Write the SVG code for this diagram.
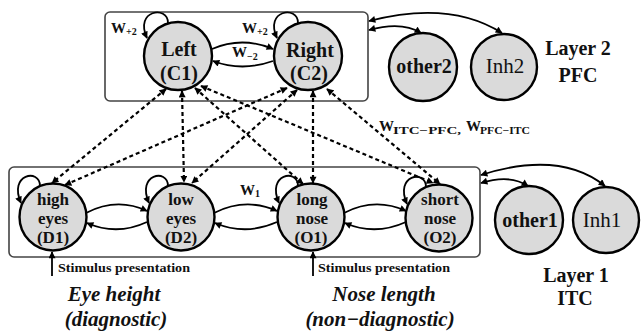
<svg xmlns="http://www.w3.org/2000/svg" width="642" height="333" viewBox="0 0 642 333">
  <defs>
    <marker id="ah" viewBox="0 0 10 10" refX="9" refY="5" markerWidth="8" markerHeight="7" markerUnits="userSpaceOnUse" orient="auto-start-reverse">
      <path d="M0,0 L10,5 L0,10 z" fill="#000"/>
    </marker>
    <style>
      text { font-family: 'Liberation Serif', 'Times New Roman', serif; fill: #111; }
      .box { fill: none; stroke: #444; stroke-width: 1.6; }
      .node { fill: #dadada; stroke: #000; stroke-width: 2.4; }
      .lbl { font-weight: bold; text-anchor: middle; }
      .lbl3 { font-weight: bold; text-anchor: middle; font-size: 17px; }
      .lblr { text-anchor: middle; }
      .w { font-weight: bold; }
      .solid { fill: none; stroke: #000; stroke-width: 1.8; marker-end: url(#ah); }
      .both { fill: none; stroke: #000; stroke-width: 1.8; marker-start: url(#ah); marker-end: url(#ah); }
      .dash { fill: none; stroke: #000; stroke-width: 2.2; stroke-dasharray: 4 3; marker-start: url(#ah); marker-end: url(#ah); }
      .cap { font-weight: bold; font-style: italic; text-anchor: middle; font-size: 21px; }
    </style>
  </defs>

  <!-- layer frames -->
  <rect class="box" x="105" y="12" width="263" height="89" rx="5"/>
  <rect class="box" x="9" y="167" width="471" height="90" rx="5"/>

  <!-- connectors -->
  <g id="connectors">
    <!-- ITC <-> PFC dashed projections -->
    <path class="dash" d="M166,89 L52,183"/>
    <path class="dash" d="M287,88 L65,185"/>
    <path class="dash" d="M182,91 L184,182"/>
    <path class="dash" d="M297,90 L192,183"/>
    <path class="dash" d="M195,88 L303,184"/>
    <path class="dash" d="M313,91 L313,183"/>
    <path class="dash" d="M201,86 L433,183"/>
    <path class="dash" d="M327,89 L440,184"/>

    <!-- self excitation loops -->
    <path class="solid" d="M168,23 C168,5 134,10 147,38"/>
    <path class="solid" d="M298,23 C298,5 264,10 277,38"/>
    <path class="solid" d="M40,186 C40,168 8,174 21,203"/>
    <path class="solid" d="M168,186 C168,168 136,174 149,203"/>
    <path class="solid" d="M298,186 C298,168 266,174 279,203"/>
    <path class="solid" d="M426,187 C426,169 394,175 407,204"/>

    <!-- lateral links in layer 2 -->
    <path class="solid" d="M212,49 Q242,36 273,49"/>
    <path class="solid" d="M273,61 Q242,72 213,61"/>

    <!-- lateral links in layer 1 -->
    <path class="solid" d="M86,213 Q117,197 147,211"/>
    <path class="solid" d="M147,222 Q117,236 87,223"/>
    <path class="solid" d="M214,213 Q246,197 277,211"/>
    <path class="solid" d="M277,222 Q246,236 215,223"/>
    <path class="solid" d="M344,213 Q375,197 406,211"/>
    <path class="solid" d="M406,222 Q375,236 345,223"/>

    <!-- links to other / inhibitory pools -->
    <path class="both" d="M369,21 Q450,0 502,33"/>
    <path class="both" d="M369,30 Q402,21 421,33"/>
    <path class="both" d="M481,175 Q560,150 605,186"/>
    <path class="both" d="M481,183 Q510,174 528,186"/>

    <!-- stimulus inputs -->
    <path class="solid" d="M52,276 L52,252"/>
    <path class="solid" d="M313,276 L313,252"/>
  </g>

  <!-- layer 2 (PFC) -->
  <g id="C1">
    <circle class="node" cx="178" cy="56" r="34"/>
    <text class="lbl" x="179" y="56" font-size="20">Left</text>
    <text class="lbl" x="179" y="80" font-size="20">(C1)</text>
  </g>
  <g id="C2">
    <circle class="node" cx="308" cy="56" r="34"/>
    <text class="lbl" x="310" y="57" font-size="20">Right</text>
    <text class="lbl" x="309" y="80" font-size="20">(C2)</text>
  </g>
  <g id="other2">
    <circle class="node" cx="423" cy="67" r="34"/>
    <text class="lbl" x="424" y="73" font-size="20">other2</text>
  </g>
  <g id="Inh2">
    <circle class="node" cx="504" cy="67" r="33"/>
    <text class="lblr" x="505" y="73" font-size="21">Inh2</text>
  </g>

  <!-- layer 1 (ITC) -->
  <g id="D1">
    <circle class="node" cx="53" cy="217" r="33.5"/>
    <text class="lbl3" x="53" y="205">high</text>
    <text class="lbl3" x="53" y="224">eyes</text>
    <text class="lbl3" x="53" y="243">(D1)</text>
  </g>
  <g id="D2">
    <circle class="node" cx="181" cy="217" r="33.5"/>
    <text class="lbl3" x="181" y="205">low</text>
    <text class="lbl3" x="181" y="224">eyes</text>
    <text class="lbl3" x="181" y="243">(D2)</text>
  </g>
  <g id="O1">
    <circle class="node" cx="311" cy="217" r="33.5"/>
    <text class="lbl3" x="312" y="205">long</text>
    <text class="lbl3" x="312" y="224">nose</text>
    <text class="lbl3" x="311" y="243">(O1)</text>
  </g>
  <g id="O2">
    <circle class="node" cx="439" cy="218" r="33.5"/>
    <text class="lbl3" x="440" y="205">short</text>
    <text class="lbl3" x="440" y="224">nose</text>
    <text class="lbl3" x="440" y="243">(O2)</text>
  </g>
  <g id="other1">
    <circle class="node" cx="529" cy="220" r="34"/>
    <text class="lbl" x="530" y="227" font-size="20">other1</text>
  </g>
  <g id="Inh1">
    <circle class="node" cx="606" cy="220" r="33"/>
    <text class="lblr" x="602" y="227" font-size="21">Inh1</text>
  </g>

  <!-- weight labels -->
  <text class="w" x="111" y="33" font-size="15">W<tspan font-size="10" dy="2">+2</tspan></text>
  <text class="w" x="242" y="33" font-size="15">W<tspan font-size="10" dy="2">+2</tspan></text>
  <text class="w" x="232" y="57" font-size="15">W<tspan font-size="10" dy="3">−2</tspan></text>
  <text class="w" x="240" y="195" font-size="15">W<tspan font-size="10" dy="2">1</tspan></text>
  <text class="w" x="379" y="131" font-size="15">W</text>
  <text class="w" x="393" y="134" font-size="10.5" textLength="68" lengthAdjust="spacingAndGlyphs">ITC−PFC,</text>
  <text class="w" x="466" y="131" font-size="15">W</text>
  <text class="w" x="480" y="134" font-size="10.5" textLength="50" lengthAdjust="spacingAndGlyphs">PFC−ITC</text>

  <!-- layer titles -->
  <text class="lbl" x="578" y="55" font-size="20">Layer 2</text>
  <text class="lbl" x="578" y="82" font-size="20">PFC</text>
  <text class="lbl" x="576" y="282" font-size="20">Layer 1</text>
  <text class="lbl" x="575" y="305" font-size="20">ITC</text>

  <!-- stimulus annotations -->
  <text class="w" x="58" y="272" font-size="11.5" textLength="132" lengthAdjust="spacingAndGlyphs">Stimulus presentation</text>
  <text class="w" x="318" y="272" font-size="11.5" textLength="132" lengthAdjust="spacingAndGlyphs">Stimulus presentation</text>

  <!-- feature dimensions -->
  <text class="cap" x="114" y="301">Eye height</text>
  <text class="cap" x="116" y="326">(diagnostic)</text>
  <text class="cap" x="384" y="301">Nose length</text>
  <text class="cap" x="380" y="326">(non−diagnostic)</text>
</svg>
